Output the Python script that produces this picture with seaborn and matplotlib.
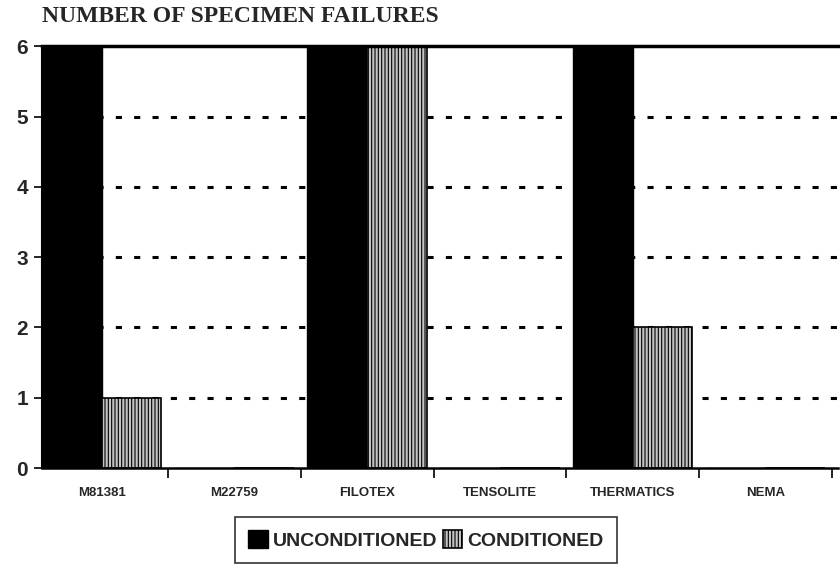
import pandas as pd
import matplotlib
matplotlib.use('Agg')
import matplotlib.pyplot as plt
import seaborn as sns

# Data
categories = ['M81381', 'M22759', 'FILOTEX', 'TENSOLITE', 'THERMATICS', 'NEMA']
unconditioned = [6, 0, 6, 0, 6, 0]
conditioned = [1, 0, 6, 0, 2, 0]
series_names = ['UNCONDITIONED', 'CONDITIONED']
y_ticks = [0, 1, 2, 3, 4, 5, 6]

df = pd.DataFrame({
    'wire': categories * 2,
    'failures': unconditioned + conditioned,
    'condition': [series_names[0]] * len(categories) + [series_names[1]] * len(categories),
})

sns.set_theme(style='white')
plt.rcParams['font.family'] = ['Liberation Sans', 'DejaVu Sans']
plt.rcParams['hatch.color'] = '#3a3a3a'
plt.rcParams['hatch.linewidth'] = 0.8

fig = plt.figure(figsize=(8.4, 5.85), dpi=100)
ax = fig.add_axes([0.05, 0.2, 0.948, 0.721])

sns.barplot(data=df, x='wire', y='failures', hue='condition',
            palette=['black', '#c4c4c4'], width=0.9, saturation=1,
            legend=False, ax=ax)

# black bars solid, conditioned bars with a fine vertical hatch
for bar in ax.containers[0]:
    bar.set_edgecolor('black')
    bar.set_linewidth(1.0)
for bar in ax.containers[1]:
    bar.set_hatch('|||||')
    bar.set_edgecolor('black')
    bar.set_linewidth(1.2)

ax.set_xlim(-0.45, 5.55)
ax.set_ylim(0, 6)
ax.set_yticks(y_ticks)
ax.set_yticklabels([str(t) for t in y_ticks], fontsize=15, fontweight='bold')
ax.set_xticks(range(len(categories)))
ax.set_xticklabels(categories, fontsize=9.5, fontweight='bold')
ax.set_xticks([i + 0.5 for i in range(len(categories))], minor=True)
ax.tick_params(axis='x', which='major', length=0, pad=14)
ax.tick_params(axis='x', which='minor', bottom=True, length=7, width=1.2,
               color='black', direction='out')
ax.tick_params(axis='y', length=6, width=1.2, color='black', direction='out', left=True, pad=4)
ax.set_xlabel('')
ax.set_ylabel('')

# dotted grid lines, solid top line
for y in y_ticks[1:-1]:
    ax.axhline(y, color='black', linestyle=(0, (2, 4)), linewidth=2.2, zorder=0)
for side in ['left', 'bottom', 'top']:
    ax.spines[side].set_visible(True)
    ax.spines[side].set_color('black')
ax.spines['left'].set_linewidth(1.5)
ax.spines['bottom'].set_linewidth(1.8)
ax.spines['top'].set_linewidth(2.5)
ax.spines['right'].set_visible(False)

fig.text(0.05, 0.972, 'NUMBER OF SPECIMEN FAILURES', fontsize=17, fontweight='bold',
         family=['Liberation Serif', 'DejaVu Serif'], ha='left', va='center')

handles = [ax.containers[0][0], ax.containers[1][0]]
leg = fig.legend(handles, series_names, loc='center', bbox_to_anchor=(0.507, 0.077),
                 ncol=2, frameon=True, fancybox=False, edgecolor='black',
                 prop={'size': 14, 'weight': 'bold'}, handlelength=1.0, handleheight=1.0,
                 handletextpad=0.25, columnspacing=0.3, borderpad=0.7)
leg.get_frame().set_linewidth(1.2)

plt.savefig('out.png', dpi=100)
plt.close()
